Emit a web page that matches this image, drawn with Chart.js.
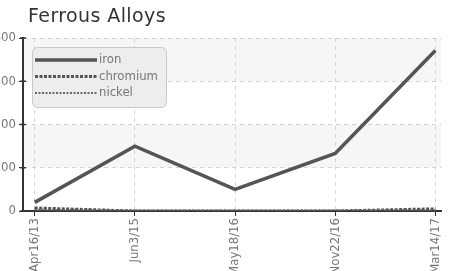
<!DOCTYPE html>
<html><head><meta charset="utf-8">
<script src="https://cdn.jsdelivr.net/npm/chart.js@4/dist/chart.umd.min.js"></script>
<style>
html,body{margin:0;padding:0;background:#fff;overflow:hidden;width:453px;height:271px;}
#title{position:absolute;left:28px;top:4px;font-family:"DejaVu Sans",sans-serif;font-size:19px;letter-spacing:0.4px;color:#333;white-space:nowrap;}
#wrap{position:absolute;left:-20px;top:0;width:473px;height:271px;}
</style></head><body>
<div id="wrap"><canvas id="c" width="473" height="271"></canvas></div>
<div id="title">Ferrous Alloys</div>
<script>
const categories = ["Apr16/13","Jun3/15","May18/16","Nov22/16","Mar14/17"];
const ironValues = [20, 150, 50, 133, 371];
const chromiumValues = [7, 0, 0, 0, 5];
const nickelValues = [3, 1, 1, 1, 2];
const yTicks = [0, 100, 200, 300, 400];

const narrow = '"Liberation Sans Narrow","DejaVu Sans Condensed","Roboto",sans-serif';
const toPoints = vals => vals.map((v, i) => ({x: i, y: v}));

const bandPlugin = {
  id: 'bands',
  beforeDraw(chart) {
    const {ctx, chartArea, scales:{y}} = chart;
    ctx.save();
    ctx.fillStyle = '#f6f6f6';
    [[300,400],[100,200]].forEach(([a,b])=>{
      const y1 = y.getPixelForValue(b), y2 = y.getPixelForValue(a);
      ctx.fillRect(chartArea.left, y1, chartArea.right-chartArea.left, y2-y1);
    });
    ctx.restore();
  }
};
const axisPlugin = {
  id: 'yAxisLine',
  afterDatasetsDraw(chart) {
    const {ctx, chartArea, scales:{y}} = chart;
    const x = chartArea.left;
    ctx.save();
    ctx.strokeStyle = '#333';
    ctx.lineWidth = 2;
    ctx.beginPath();
    ctx.moveTo(x, y.getPixelForValue(y.max));
    ctx.lineTo(x, y.getPixelForValue(y.min));
    ctx.stroke();
    ctx.lineWidth = 1.5;
    y.ticks.forEach(t => {
      const py = y.getPixelForValue(t.value);
      ctx.beginPath(); ctx.moveTo(x - 3, py); ctx.lineTo(x + 3, py); ctx.stroke();
    });
    ctx.restore();
  }
};
const legendPlugin = {
  id: 'boxLegend',
  afterDraw(chart) {
    const ctx = chart.ctx;
    const x = 52, y = 47, w = 134, h = 60, r = 5;
    ctx.save();
    ctx.fillStyle = 'rgba(236,236,236,0.92)';
    ctx.strokeStyle = '#c8c8c8';
    ctx.lineWidth = 1;
    ctx.beginPath();
    ctx.roundRect(x+0.5, y+0.5, w, h, r);
    ctx.fill(); ctx.stroke();
    ctx.font = '13px ' + narrow;
    ctx.textBaseline = 'middle';
    chart.data.datasets.forEach((ds, i) => {
      const ly = 60 + i*16.5;
      ctx.strokeStyle = ds.borderColor;
      ctx.lineWidth = ds.borderWidth;
      ctx.setLineDash(ds.borderDash || []);
      ctx.beginPath(); ctx.moveTo(55, ly); ctx.lineTo(117, ly); ctx.stroke();
      ctx.setLineDash([]);
      ctx.fillStyle = '#777';
      ctx.fillText(ds.label, 119, ly);
    });
    ctx.restore();
  }
};

new Chart(document.getElementById('c'), {
  type: 'line',
  data: {
    datasets: [
      {label:'iron', data: toPoints(ironValues), borderColor:'#555', borderWidth:3.5, pointRadius:0, tension:0},
      {label:'chromium', data: toPoints(chromiumValues), borderColor:'#555', borderWidth:3, borderDash:[3,1.5], pointRadius:0, tension:0},
      {label:'nickel', data: toPoints(nickelValues), borderColor:'#666', borderWidth:2, borderDash:[2,1.5], pointRadius:0, tension:0}
    ]
  },
  options: {
    responsive:false, animation:false,
    layout:{padding:{top:38, right:2, left:0, bottom:0}},
    plugins:{legend:{display:false}, title:{display:false}, tooltip:{enabled:false}},
    scales:{
      x:{
        type:'linear', min:-0.117, max:4.06,
        afterFit(s){ s.height = 60; },
        afterBuildTicks(s){ s.ticks = categories.map((c, i) => ({value:i})); },
        grid:{color:'#d4d4d4', tickColor:'#333', tickLength:5, tickBorderDash:[]},
        border:{color:'#333', width:2, dash:[4,4]},
        ticks:{minRotation:90, maxRotation:90, autoSkip:false, color:'#777', padding:2,
               font:{family:narrow, size:13}, callback:(v)=>categories[v]}
      },
      y:{
        min:0, max:400,
        afterFit(s){ s.width = 43; },
        afterBuildTicks(s){ s.ticks = yTicks.map(v=>({value:v})); },
        grid:{color:'#d4d4d4', tickColor:'#333', tickLength:4, tickBorderDash:[]},
        border:{color:'#333', width:2, dash:[4,4]},
        ticks:{color:'#777', padding:3, font:{family:narrow, size:13}}
      }
    }
  },
  plugins:[bandPlugin, axisPlugin, legendPlugin]
});
</script>
</body></html>
